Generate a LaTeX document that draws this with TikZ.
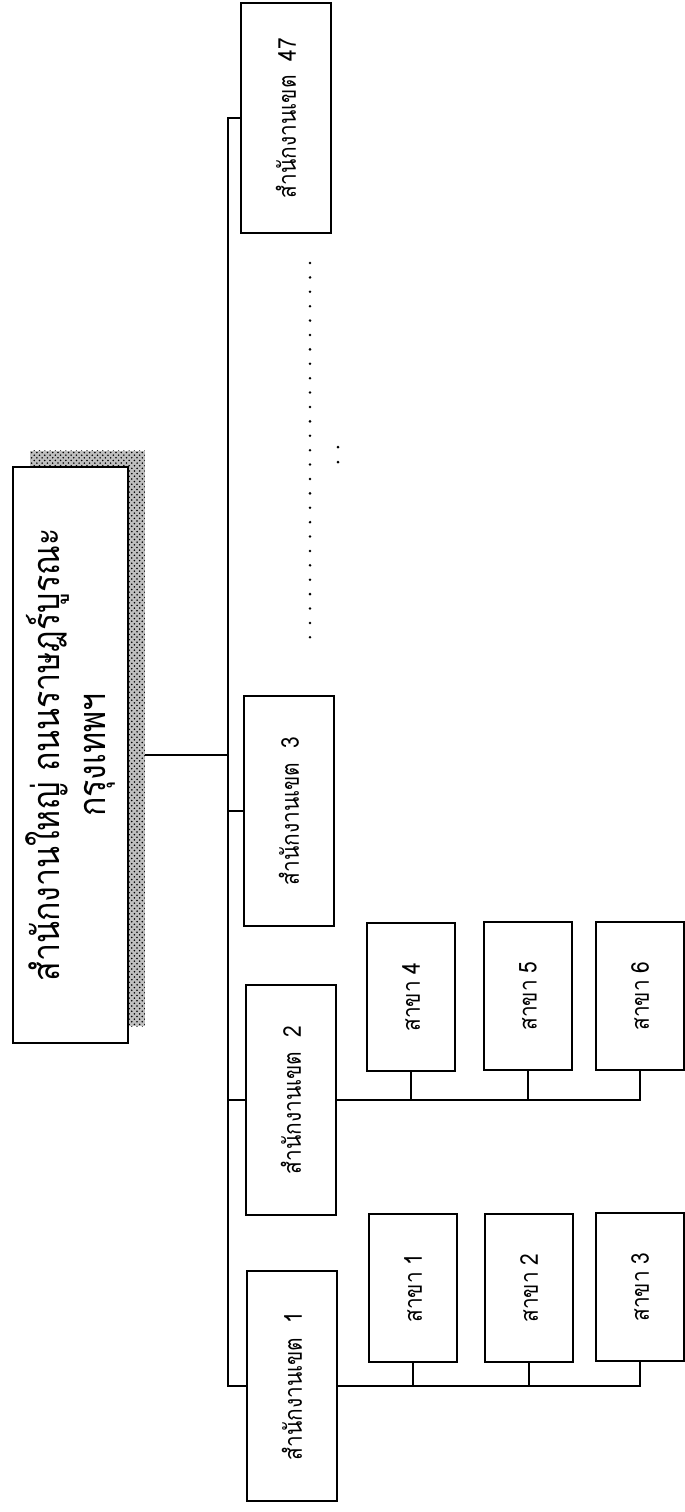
\documentclass[tikz,border=0pt]{standalone}
\usepackage{fontspec}
\newfontfamily\thaifont[Script=Thai, FakeStretch=0.85]{Loma}
\usepackage{tikz}
\usetikzlibrary{positioning,patterns}

\begin{document}
\begin{tikzpicture}[
    x=0.02cm, y=-0.02cm,
    hq/.style={rectangle, draw=black, fill=white, line width=1.4pt, rotate=90, align=center, minimum width=11.52cm, minimum height=2.3cm, font=\thaifont\fontsize{21.5}{26}\selectfont},
    hqshade/.style={rectangle, preaction={fill=black!25}, pattern=crosshatch dots, rotate=90, minimum width=11.52cm, minimum height=2.3cm},
    zone/.style={rectangle, draw=black, line width=1.2pt, rotate=90, minimum width=4.6cm, minimum height=1.8cm, font=\thaifont\fontsize{14}{17}\selectfont},
    branch/.style={rectangle, draw=black, line width=1.2pt, rotate=90, minimum width=2.96cm, minimum height=1.76cm, font=\thaifont\fontsize{14}{17}\selectfont},
    ln/.style={line width=0.8pt},
    dotrow/.style={line width=1.6pt, line cap=round, dash pattern=on 0pt off 0.288cm}
]
    \useasboundingbox (0,0) rectangle (685,1512);

    % head office with its shadow
    \node [hqshade] (hqshadow) at (87.5,738.5) {};
    \node [hq] (hq) at (70.5,755) {สำนักงานใหญ่ ถนนราษฎร์บูรณะ\\กรุงเทพฯ};

    % zone offices
    \node [zone] (z1) at (292,1386) {สำนักงานเขต\ \ 1};
    \node [zone] (z2) at (291,1100) {สำนักงานเขต\ \ 2};
    \node [zone] (z3) at (289,811) {สำนักงานเขต\ \ 3};
    \node [zone] (z47) at (286,118) {สำนักงานเขต\ \ 47};

    % branches
    \node [branch] (b1) at (413,1288) {สาขา 1};
    \node [branch] (b2) at (529,1288) {สาขา 2};
    \node [branch] (b3) at (640,1287) {สาขา 3};
    \node [branch] (b4) at (411,997) {สาขา 4};
    \node [branch] (b5) at (528,996) {สาขา 5};
    \node [branch] (b6) at (640,996) {สาขา 6};

    \coordinate (bus) at (228,755);
    \coordinate (gap1) at (310,263);
    \coordinate (gap2) at (310,648);

    \draw [ln] (hq.south -| hqshadow.south) -- (bus);
    \draw [ln] (z47.north) -- (z47.north -| bus) -- (z1.north -| bus) -- (z1.north);
    \draw [ln] (z2.north) -- (z2.north -| bus);
    \draw [ln] (z3.north) -- (z3.north -| bus);

    \draw [ln] (z1.south) -- (z1.south -| b3.west) -- (b3.west);
    \draw [ln] (b1.west) -- (b1.west |- z1.south);
    \draw [ln] (b2.west) -- (b2.west |- z1.south);
    \draw [ln] (z2.south) -- (z2.south -| b6.west) -- (b6.west);
    \draw [ln] (b4.west) -- (b4.west |- z2.south);
    \draw [ln] (b5.west) -- (b5.west |- z2.south);

    % more zones
    \draw [dotrow] (gap1) -- (gap2);
    \fill (338,447) circle [radius=0.03cm];
    \fill (338,462) circle [radius=0.03cm];
\end{tikzpicture}
\end{document}
